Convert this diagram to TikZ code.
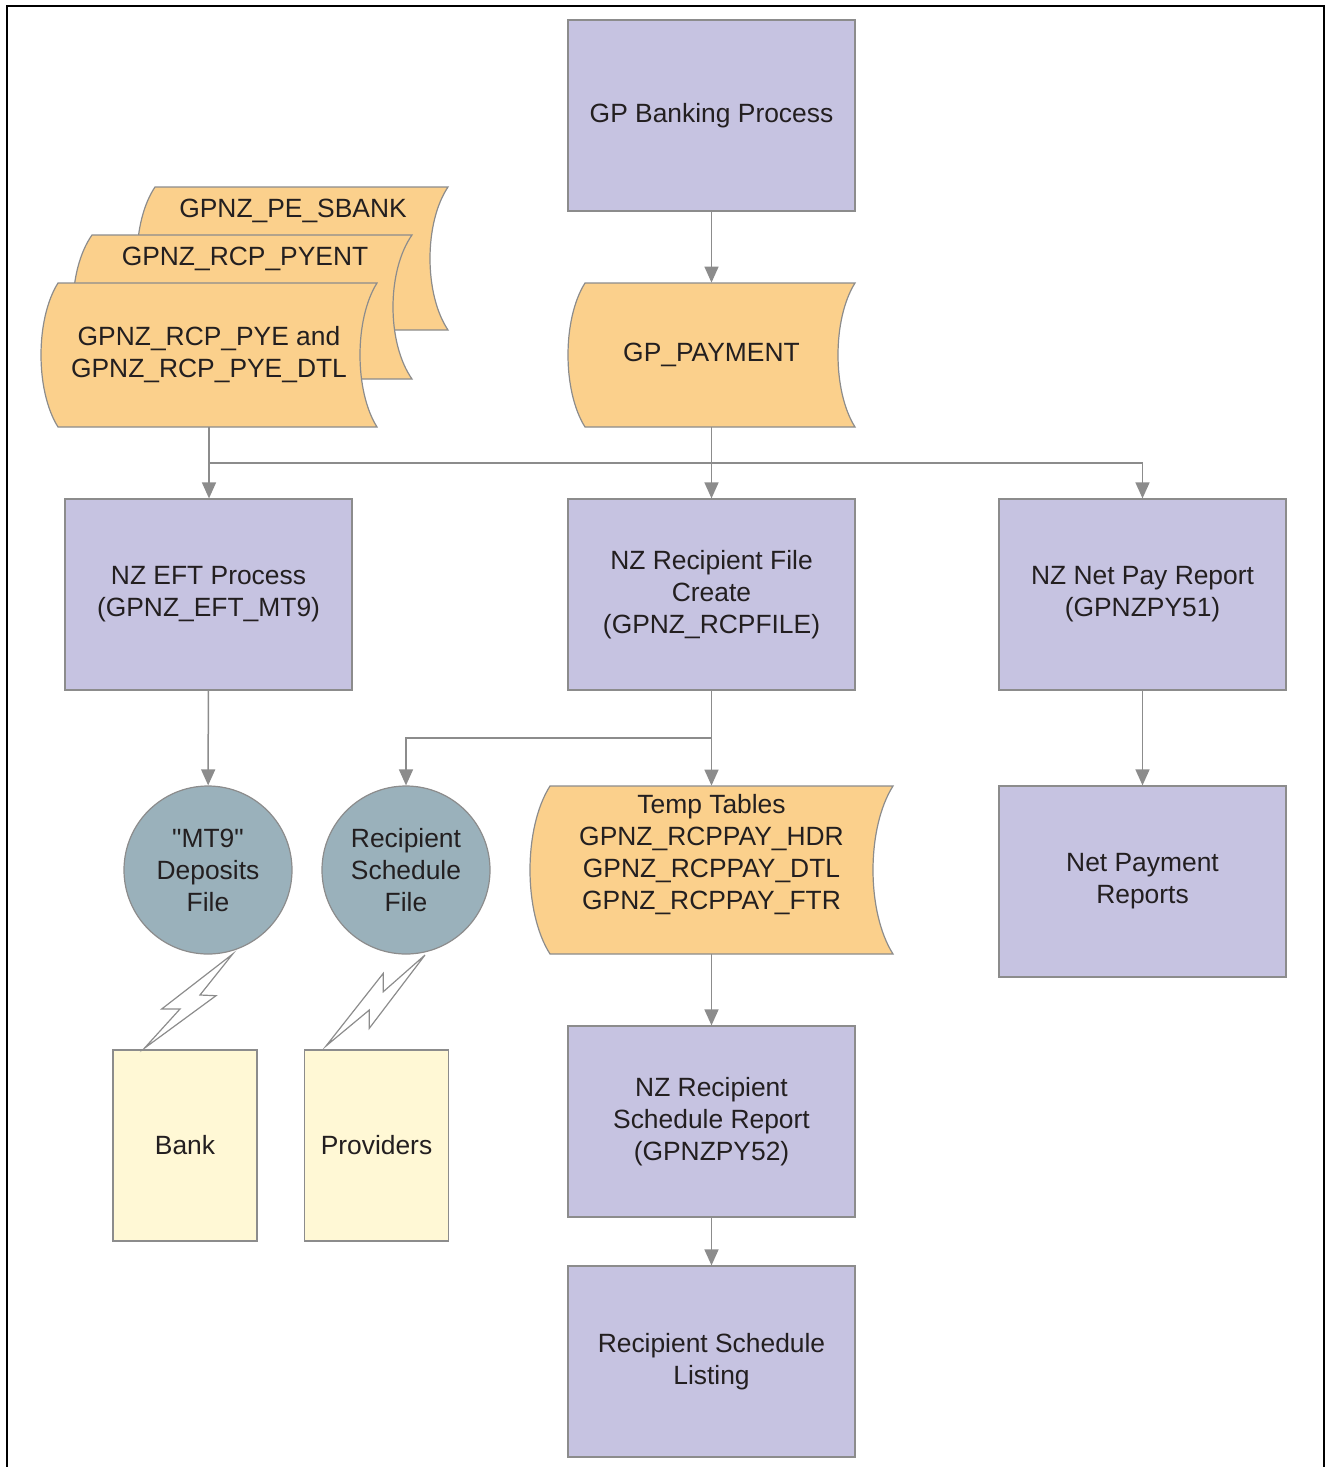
\documentclass[tikz,border=0pt]{standalone}
\usepackage{fontspec}
\setmainfont{Liberation Sans}[Ligatures=TeXOff]
\usetikzlibrary{arrows.meta}
\definecolor{procfill}{HTML}{C6C3E1}
\definecolor{datafill}{HTML}{FBD08C}
\definecolor{circfill}{HTML}{9AB1BB}
\definecolor{extfill}{HTML}{FFF8D5}
\definecolor{edgegray}{HTML}{8C8C8C}
\definecolor{txt}{HTML}{231F20}
\newcommand\tapepath[5]{%
  \filldraw[datashape] ({#1+#5},#2) -- (#3,#2)
    .. controls ({#3-4*#5/3},{#2+(#4-#2)/4}) and ({#3-4*#5/3},{#4-(#4-#2)/4}) .. (#3,#4)
    -- ({#1+#5},#4)
    .. controls ({#1-#5/3},{#4-(#4-#2)/4}) and ({#1-#5/3},{#2+(#4-#2)/4}) .. ({#1+#5},#2) -- cycle;}
\begin{document}
\begin{tikzpicture}[x=0.5pt,y=-0.5pt,
  base/.style={font=\fontsize{13.2}{16}\selectfont, text=txt, align=center, inner sep=0pt},
  proc/.style={base, draw=edgegray, fill=procfill, line width=0.6pt, minimum width=143.5pt, minimum height=95.5pt},
  ext/.style={base, draw=edgegray, fill=extfill, line width=0.6pt, minimum width=72pt, minimum height=95.5pt},
  file/.style={base, circle, draw=edgegray, fill=circfill, line width=0.6pt, minimum size=84pt},
  datashape/.style={draw=edgegray, fill=datafill, line width=0.6pt},
  conn/.style={draw=edgegray, line width=0.75pt},
  arr/.style={conn, -{Triangle[width=7pt,length=8pt]}},
  bolt/.style={draw=edgegray, line width=0.6pt, line join=miter},
  frame/.style={draw=black, line width=1pt}]
\useasboundingbox (0,0) rectangle (1328,1467);
\draw[frame] (7,1470) -- (7,6) -- (1324,6) -- (1324,1470);

% stacked data shapes (back to front)
\tapepath{137}{187}{448}{330}{18}
\node[base] (sbank) at (293,211) {GPNZ\_PE\_SBANK};
\tapepath{73}{235}{412}{379}{19}
\node[base] (pyent) at (245,259) {GPNZ\_RCP\_PYENT};
\tapepath{41}{283}{377}{427}{17}
\node[base, minimum width=168pt, minimum height=72pt] (pye) at (209,355) {GPNZ\_RCP\_PYE and\\GPNZ\_RCP\_PYE\_DTL};

% GP payment
\tapepath{568}{283}{855}{427}{17}
\node[base, minimum width=143.5pt, minimum height=72pt] (pay) at (711.5,355) {GP\_PAYMENT};

% temp tables
\tapepath{530}{786}{893}{954}{20}
\node[base, minimum width=181.5pt, minimum height=84pt] (temp) at (711.5,870) {};
\node[base] (temptxt) at (711.5,855) {Temp Tables\\GPNZ\_RCPPAY\_HDR\\GPNZ\_RCPPAY\_DTL\\GPNZ\_RCPPAY\_FTR};

% process boxes
\node[proc] (gpb) at (711.5,115.5) {GP Banking Process};
\node[proc] (eft) at (208.5,594.5) {NZ EFT Process\\(GPNZ\_EFT\_MT9)};
\node[proc] (rcf) at (711.5,594.5) {NZ Recipient File\\Create\\(GPNZ\_RCPFILE)};
\node[proc] (npr) at (1142.5,594.5) {NZ Net Pay Report\\(GPNZPY51)};
\node[proc] (nprep) at (1142.5,881.5) {Net Payment\\Reports};
\node[proc] (rsr) at (711.5,1121.5) {NZ Recipient\\Schedule Report\\(GPNZPY52)};
\node[proc] (rsl) at (711.5,1361.5) {Recipient Schedule\\Listing};

% files
\node[file] (mt9) at (208,870) {"MT9"\\Deposits\\File};
\node[file] (rsf) at (406,870) {Recipient\\Schedule\\File};

% external
\node[ext] (bank) at (185,1145.5) {Bank};
\node[ext] (prov) at (376.5,1145.5) {Providers};

% lightning bolts
\draw[bolt] (232.7,954) -- (200,995) -- (216,995.7) -- (144.3,1048.3) -- (180,1009) -- (161.7,1009) -- cycle;
\draw[bolt] (425,955) -- (369.3,1028.3) -- (369.3,1010) -- (326,1046) -- (383.3,973.3) -- (383.3,991.7) -- cycle;

% connectors
\coordinate (j1) at (711.5,463);
\coordinate (j2) at (711.5,738);
\draw[arr] (gpb) -- (pay);
\draw[arr] (pye.south) -- (pye.south |- eft.north);
\draw[arr] (pay) -- (rcf);
\draw[conn] (j1) -- (pye.south |- j1);
\draw[arr] (j1) -| (npr.north);
\draw[arr] (eft) -- (mt9);
\draw[arr] (rcf) -- (temp);
\draw[arr] (j2) -| (rsf.north);
\draw[arr] (npr) -- (nprep);
\draw[arr] (temp) -- (rsr);
\draw[arr] (rsr) -- (rsl);
\end{tikzpicture}
\end{document}
